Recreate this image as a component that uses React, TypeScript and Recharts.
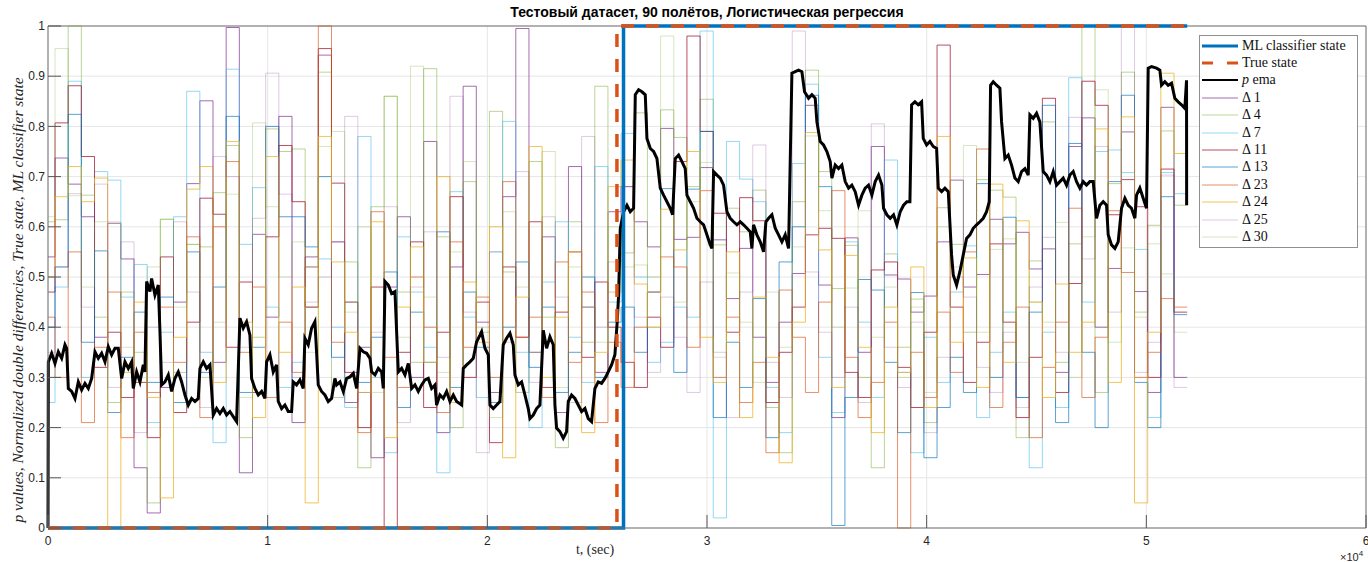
import { ComposedChart, Line, XAxis, YAxis, CartesianGrid, ReferenceLine } from "recharts";

// axis ticks (t in seconds, shown as x10^4)
const xTicks = [0, 10000, 20000, 30000, 40000, 50000, 60000];
const yTicks = [0, 0.1, 0.2, 0.3, 0.4, 0.5, 0.6, 0.7, 0.8, 0.9, 1];

// flight grid: first (partial) flight ends at 320 s, then ~600 s per flight
const firstFlightEnd = 320;
const flightDur = 599.3;

// classifier / true state switch points
const mlStateT = [0, 26200, 26200, 51860];
const mlStateV = [0, 0, 1, 1];
const trueStateT = [0, 25900, 25900, 51860];
const trueStateV = [0, 0, 1, 1];

// normalized double differences per flight (87 flights)
const d1 = [0.54, 0.737, 0.685, 0.62, 0.38, 0.607, 0.536, 0.12, 0.03, 0.28, 0.45, 0.686, 0.851, 0.33, 0.997, 0.11, 0.585, 0.42, 0.82, 0.21, 0.54, 0.942, 0.57, 0.25, 0.36, 0.14, 0.48, 0.62, 0.3, 0.77, 0.19, 0.52, 0.88, 0.41, 0.27, 0.66, 0.995, 0.35, 0.58, 0.23, 0.72, 0.44, 0.31, 0.63, 0.68, 0.61, 0.56, 0.796, 0.575, 0.579, 0.718, 0.574, 0.457, 0.557, 0.38, 0.29, 0.41, 0.507, 0.842, 0.484, 0.22, 0.578, 0.35, 0.76, 0.504, 0.496, 0.43, 0.462, 0.57, 0.693, 0.48, 0.505, 0.615, 0.566, 0.589, 0.516, 0.556, 0.31, 0.76, 0.817, 0.4, 0.517, 0.789, 0.471, 0.27, 0.838, 0.3];
const d4 = [0.61, 0.614, 1.0, 0.663, 0.42, 0.25, 0.47, 0.35, 0.05, 0.615, 0.31, 0.565, 0.56, 0.668, 0.762, 0.18, 0.38, 0.795, 0.75, 0.755, 0.44, 0.908, 0.26, 0.53, 0.12, 0.64, 0.86, 0.47, 0.33, 0.915, 0.58, 0.2, 0.69, 0.39, 0.83, 0.51, 0.27, 0.73, 0.42, 0.16, 0.61, 0.37, 0.88, 0.47, 0.548, 0.827, 0.5, 0.833, 0.778, 0.68, 0.854, 0.564, 0.637, 0.59, 0.673, 0.24, 0.15, 0.65, 0.912, 0.71, 0.477, 0.563, 0.3, 0.12, 0.546, 0.36, 0.456, 0.21, 0.638, 0.565, 0.39, 0.694, 0.673, 0.659, 0.18, 0.532, 0.809, 0.33, 0.566, 1.0, 0.27, 0.686, 0.908, 0.43, 0.603, 0.791, 0.643];
const d7 = [0.25, 0.48, 0.89, 0.3, 0.71, 0.693, 0.46, 0.525, 0.21, 0.39, 0.62, 0.87, 0.35, 0.17, 0.914, 0.565, 0.678, 0.44, 0.28, 0.33, 0.52, 0.536, 0.4, 0.24, 0.78, 0.3, 0.15, 0.58, 0.47, 0.36, 0.11, 0.67, 0.42, 0.26, 0.55, 0.81, 0.35, 0.2, 0.49, 0.61, 0.38, 0.29, 0.72, 0.45, 0.786, 0.5, 0.33, 0.37, 0.44, 0.42, 0.99, 0.02, 0.77, 0.695, 0.65, 0.28, 0.19, 0.726, 0.884, 0.34, 0.23, 0.57, 0.41, 0.26, 0.733, 0.31, 0.15, 0.38, 0.29, 0.47, 0.562, 0.22, 0.35, 0.43, 0.26, 0.12, 0.39, 0.24, 0.897, 0.45, 0.75, 0.753, 0.708, 0.555, 0.22, 0.708, 0.666];
const d11 = [0.47, 0.807, 0.881, 0.74, 0.32, 0.39, 0.26, 0.29, 0.18, 0.54, 0.23, 0.41, 0.657, 0.625, 0.36, 0.49, 0.27, 0.58, 0.762, 0.65, 0.44, 0.955, 0.687, 0.31, 0.2, 0.48, 0.0, 0.35, 0.57, 0.24, 0.39, 0.66, 0.3, 0.45, 0.17, 0.52, 0.38, 0.61, 0.28, 0.43, 0.55, 0.34, 0.49, 0.4, 0.33, 0.28, 0.42, 0.36, 0.73, 0.98, 0.79, 0.627, 0.39, 0.658, 0.612, 0.25, 0.35, 0.44, 0.584, 0.597, 0.577, 0.31, 0.26, 0.514, 0.53, 0.32, 0.24, 0.39, 0.962, 0.44, 0.29, 0.37, 0.566, 0.41, 0.22, 0.34, 0.856, 0.27, 0.487, 0.89, 0.842, 0.624, 0.694, 0.64, 0.3, 0.715, 0.43];
const d13 = [0.4, 0.52, 0.824, 0.37, 0.552, 0.23, 0.34, 0.43, 0.29, 0.46, 0.25, 0.55, 0.31, 0.48, 0.82, 0.27, 0.36, 0.8, 0.62, 0.62, 0.56, 0.7, 0.34, 0.45, 0.29, 0.38, 0.51, 0.24, 0.43, 0.33, 0.59, 0.28, 0.47, 0.36, 0.25, 0.4, 0.53, 0.32, 0.44, 0.27, 0.35, 0.5, 0.3, 0.41, 0.44, 0.35, 0.47, 0.676, 0.31, 0.675, 0.79, 0.22, 0.37, 0.28, 0.457, 0.18, 0.53, 0.6, 0.862, 0.68, 0.005, 0.26, 0.495, 0.474, 0.33, 0.19, 0.469, 0.14, 0.24, 0.34, 0.27, 0.686, 0.3, 0.619, 0.26, 0.43, 0.842, 0.21, 0.766, 0.35, 0.2, 0.69, 0.862, 0.29, 0.2, 0.66, 0.425];
const d23 = [0.42, 0.3, 0.55, 0.21, 0.36, 0.47, 0.18, 0.39, 0.27, 0.44, 0.33, 0.58, 0.22, 0.6, 0.73, 0.35, 0.48, 0.26, 0.41, 0.31, 0.52, 1.0, 0.37, 0.45, 0.19, 0.63, 0.34, 0.28, 0.5, 0.4, 0.23, 0.57, 0.36, 0.46, 0.3, 0.69, 0.38, 0.42, 0.26, 0.53, 0.33, 0.47, 0.21, 0.37, 0.28, 0.4, 0.47, 0.54, 0.52, 0.36, 0.672, 0.3, 0.42, 0.25, 0.33, 0.15, 0.474, 0.38, 0.27, 0.45, 0.672, 0.34, 0.22, 0.29, 0.41, 0.0, 0.35, 0.26, 0.43, 0.31, 0.55, 0.755, 0.24, 0.37, 0.44, 0.18, 0.32, 0.41, 0.637, 0.26, 0.38, 0.632, 0.509, 0.3, 0.35, 0.457, 0.44];
const d24 = [0.5, 0.66, 0.72, 0.65, 0.697, 0.0, 0.31, 0.45, 0.26, 0.06, 0.38, 0.675, 0.72, 0.29, 0.77, 0.41, 0.22, 0.74, 0.35, 0.48, 0.05, 0.78, 0.53, 0.39, 0.27, 0.61, 0.18, 0.44, 0.56, 0.33, 0.7, 0.25, 0.49, 0.37, 0.6, 0.14, 0.46, 0.76, 0.3, 0.42, 0.55, 0.19, 0.35, 0.68, 0.733, 0.486, 0.4, 0.635, 0.554, 0.75, 0.38, 0.29, 0.55, 0.22, 0.46, 0.34, 0.13, 0.41, 0.788, 0.554, 0.28, 0.543, 0.36, 0.19, 0.44, 0.31, 0.52, 0.24, 0.78, 0.37, 0.538, 0.28, 0.685, 0.33, 0.612, 0.45, 0.26, 0.486, 0.35, 0.41, 0.795, 0.29, 0.819, 0.05, 0.39, 0.906, 0.746];
const d25 = [0.35, 0.52, 0.666, 0.44, 0.685, 0.28, 0.57, 0.19, 0.4, 0.33, 0.61, 0.47, 0.24, 0.74, 0.7, 0.36, 0.617, 0.906, 0.665, 0.3, 0.45, 0.5, 0.57, 0.82, 0.27, 0.39, 0.64, 0.21, 0.48, 0.59, 0.34, 0.86, 0.43, 0.15, 0.55, 0.37, 0.71, 0.29, 0.62, 0.46, 0.25, 0.78, 0.4, 0.53, 0.68, 0.42, 0.31, 0.46, 0.38, 0.27, 0.49, 0.35, 0.22, 0.47, 0.763, 0.33, 0.26, 0.99, 0.51, 0.39, 0.3, 0.44, 0.25, 0.805, 0.36, 0.28, 0.41, 0.19, 0.34, 0.5, 0.46, 0.32, 0.27, 0.39, 0.24, 0.48, 0.579, 0.35, 0.818, 0.536, 0.76, 0.43, 1.0, 0.31, 0.37, 0.703, 0.28];
const d30 = [0.62, 0.955, 0.662, 0.48, 0.61, 0.61, 0.36, 0.29, 0.52, 0.615, 0.44, 0.565, 0.3, 0.41, 0.665, 0.26, 0.807, 0.64, 0.5, 0.57, 0.35, 0.76, 0.79, 0.43, 0.6, 0.27, 0.86, 0.38, 0.92, 0.46, 0.31, 0.55, 0.73, 0.4, 0.22, 0.63, 0.48, 0.35, 0.75, 0.28, 0.52, 0.44, 0.37, 0.6, 0.52, 0.524, 0.4, 0.98, 0.45, 0.65, 0.728, 0.34, 0.508, 0.41, 0.29, 0.47, 0.36, 0.56, 0.781, 0.632, 0.4, 0.478, 0.632, 0.38, 0.48, 0.3, 0.44, 0.27, 0.6, 0.52, 0.762, 0.39, 0.555, 0.576, 0.33, 0.45, 0.41, 0.609, 0.3, 0.58, 0.873, 0.37, 0.558, 0.42, 0.566, 0.506, 0.39];

// exponential moving average of p: [t (s), p]
const emaSamples = [
  [0, 0], [15, 0.331], [166, 0.348], [318, 0.328], [470, 0.351], [622, 0.338], [773, 0.365], [849, 0.358], [925, 0.278], [1077, 0.272], [1228, 0.258], [1380, 0.291], [1532, 0.275], [1683, 0.288], [1835, 0.278], [1987, 0.298], [2139, 0.351], [2290, 0.338], [2442, 0.348], [2594, 0.331], [2745, 0.361], [2897, 0.345], [3049, 0.358], [3200, 0.358], [3352, 0.298], [3504, 0.331], [3656, 0.318], [3807, 0.331], [3883, 0.278], [4035, 0.311], [4186, 0.291], [4338, 0.325], [4414, 0.311], [4490, 0.491], [4642, 0.471], [4717, 0.497], [4869, 0.464], [5021, 0.484], [5097, 0.391], [5173, 0.285], [5324, 0.291], [5476, 0.305], [5628, 0.272], [5779, 0.298], [5931, 0.311], [6083, 0.291], [6235, 0.265], [6386, 0.245], [6538, 0.258], [6690, 0.252], [6841, 0.258], [6917, 0.318], [7069, 0.331], [7221, 0.318], [7372, 0.325], [7524, 0.225], [7676, 0.238], [7827, 0.228], [7979, 0.238], [8131, 0.225], [8282, 0.232], [8434, 0.222], [8586, 0.212], [8737, 0.418], [8889, 0.398], [9041, 0.411], [9193, 0.384], [9268, 0.298], [9420, 0.278], [9572, 0.265], [9724, 0.272], [9875, 0.258], [9951, 0.331], [10103, 0.345], [10254, 0.311], [10406, 0.325], [10482, 0.252], [10634, 0.238], [10785, 0.245], [10937, 0.232], [11089, 0.232], [11165, 0.291], [11316, 0.285], [11468, 0.295], [11620, 0.278], [11695, 0.378], [11847, 0.365], [11999, 0.398], [12151, 0.411], [12226, 0.351], [12302, 0.285], [12454, 0.272], [12606, 0.265], [12757, 0.252], [12909, 0.258], [13061, 0.298],
  [13140, 0.285], [13292, 0.291], [13444, 0.272], [13596, 0.298], [13747, 0.301], [13899, 0.308], [14051, 0.278], [14202, 0.358], [14354, 0.351], [14506, 0.348], [14657, 0.338], [14733, 0.311], [14885, 0.305], [15037, 0.318], [15188, 0.311], [15264, 0.278], [15340, 0.491], [15492, 0.484], [15643, 0.467], [15795, 0.471], [15947, 0.311], [16099, 0.318], [16250, 0.305], [16402, 0.328], [16554, 0.278], [16705, 0.285], [16857, 0.272], [17009, 0.285], [17160, 0.295], [17312, 0.298], [17464, 0.278], [17616, 0.285], [17691, 0.245], [17843, 0.265], [17995, 0.258], [18147, 0.272], [18298, 0.252], [18450, 0.265], [18602, 0.252], [18829, 0.245], [18905, 0.318], [19057, 0.325], [19208, 0.331], [19360, 0.338], [19512, 0.371], [19664, 0.384], [19739, 0.391], [19891, 0.358], [20043, 0.345], [20119, 0.245], [20270, 0.238], [20422, 0.245], [20574, 0.252], [20725, 0.365], [20877, 0.378], [21029, 0.388], [21181, 0.365], [21256, 0.305], [21408, 0.285], [21560, 0.291], [21711, 0.265], [21863, 0.238], [21939, 0.218], [22091, 0.225], [22242, 0.238], [22394, 0.245], [22546, 0.394], [22698, 0.358], [22849, 0.381], [23001, 0.365], [23077, 0.245], [23153, 0.199], [23304, 0.192], [23456, 0.179], [23608, 0.192], [23684, 0.252], [23835, 0.265], [23987, 0.258], [24139, 0.245], [24290, 0.232], [24442, 0.238], [24594, 0.218], [24745, 0.212], [24897, 0.278], [25049, 0.291], [25201, 0.288], [25352, 0.298], [25504, 0.311], [25656, 0.325], [25808, 0.345], [25913, 0.411],
  [25976, 0.464], [26052, 0.597], [26204, 0.63], [26356, 0.643], [26507, 0.63], [26659, 0.637], [26735, 0.863], [26887, 0.873], [27038, 0.869], [27190, 0.863], [27266, 0.776], [27418, 0.756], [27569, 0.75], [27721, 0.736], [27873, 0.677], [28024, 0.663], [28176, 0.65], [28328, 0.637], [28434, 0.624], [28555, 0.736], [28707, 0.743], [28859, 0.73], [29010, 0.716], [29086, 0.663], [29238, 0.65], [29390, 0.637], [29541, 0.617], [29693, 0.61], [29845, 0.604], [29996, 0.584], [30148, 0.564], [30224, 0.557], [30300, 0.71], [30452, 0.703], [30603, 0.697], [30755, 0.683], [30907, 0.63], [31058, 0.617], [31210, 0.61], [31362, 0.604], [31513, 0.61], [31665, 0.604], [31817, 0.597], [31969, 0.59], [32044, 0.557], [32120, 0.604], [32272, 0.584], [32424, 0.57], [32575, 0.55], [32681, 0.61], [32803, 0.617], [32955, 0.624], [33106, 0.597], [33258, 0.584], [33410, 0.57], [33561, 0.584], [33713, 0.557], [33865, 0.906], [34017, 0.909], [34168, 0.912], [34320, 0.909], [34441, 0.869], [34623, 0.856], [34775, 0.863], [34927, 0.856], [35003, 0.809], [35154, 0.77], [35306, 0.763], [35458, 0.75], [35609, 0.73], [35685, 0.697], [35837, 0.723], [35989, 0.716], [36140, 0.723], [36292, 0.69], [36444, 0.677], [36595, 0.683], [36747, 0.67], [36899, 0.643], [37051, 0.663], [37202, 0.677], [37354, 0.683], [37506, 0.663], [37657, 0.69], [37809, 0.703], [37961, 0.683], [38037, 0.637], [38188, 0.624], [38340, 0.617], [38492, 0.624], [38643, 0.604], [38795, 0.63], [38947, 0.643], [39098, 0.65],
  [39238, 0.65], [39314, 0.843], [39466, 0.849], [39617, 0.843], [39769, 0.849], [39845, 0.776], [39997, 0.763], [40148, 0.77], [40300, 0.76], [40452, 0.756], [40528, 0.677], [40679, 0.67], [40831, 0.677], [40983, 0.67], [41134, 0.544], [41210, 0.504], [41362, 0.484], [41514, 0.511], [41665, 0.544], [41817, 0.577], [41969, 0.584], [42120, 0.597], [42272, 0.604], [42424, 0.61], [42576, 0.617], [42727, 0.63], [42849, 0.65], [42909, 0.882], [43031, 0.889], [43182, 0.882], [43334, 0.876], [43410, 0.809], [43562, 0.736], [43713, 0.743], [43865, 0.723], [44017, 0.697], [44168, 0.69], [44320, 0.71], [44472, 0.716], [44623, 0.703], [44699, 0.823], [44851, 0.816], [45003, 0.826], [45154, 0.809], [45306, 0.71], [45458, 0.703], [45609, 0.69], [45761, 0.71], [45913, 0.683], [46065, 0.69], [46216, 0.697], [46368, 0.683], [46520, 0.703], [46671, 0.71], [46823, 0.69], [46975, 0.677], [47126, 0.69], [47278, 0.683], [47430, 0.69], [47581, 0.69], [47733, 0.617], [47885, 0.643], [48037, 0.65], [48188, 0.643], [48264, 0.584], [48416, 0.564], [48568, 0.557], [48719, 0.57], [48871, 0.637], [49023, 0.657], [49174, 0.643], [49326, 0.637], [49478, 0.617], [49554, 0.663], [49705, 0.677], [49857, 0.657], [50009, 0.637], [50085, 0.916], [50236, 0.919], [50464, 0.916], [50615, 0.912], [50691, 0.882], [50843, 0.889], [50995, 0.882], [51147, 0.886], [51298, 0.856], [51450, 0.849], [51602, 0.843], [51753, 0.836], [51830, 0.892], [51835, 0.643],
];

const deltaSeries = [
  { key: "d1", label: "1", values: d1, color: "#7E2F8E", opacity: 0.7 },
  { key: "d4", label: "4", values: d4, color: "#77AC30", opacity: 0.5 },
  { key: "d7", label: "7", values: d7, color: "#4DBEEE", opacity: 0.6 },
  { key: "d11", label: "11", values: d11, color: "#A2142F", opacity: 0.75 },
  { key: "d13", label: "13", values: d13, color: "#0072BD", opacity: 0.65 },
  { key: "d23", label: "23", values: d23, color: "#D95319", opacity: 0.65 },
  { key: "d24", label: "24", values: d24, color: "#EDB120", opacity: 0.75 },
  { key: "d25", label: "25", values: d25, color: "#7E2F8E", opacity: 0.25 },
  { key: "d30", label: "30", values: d30, color: "#77AC30", opacity: 0.3 },
];

const nFlights = d1.length;
const flightStart = (i: number) => (i === 0 ? 0 : firstFlightEnd + (i - 1) * flightDur);

const stepRows = Array.from({ length: nFlights + 1 }, (_, i) => {
  const row: Record<string, number> = { t: flightStart(i) };
  deltaSeries.forEach((s) => {
    row[s.key] = s.values[Math.min(i, nFlights - 1)];
  });
  return row;
});

const emaData = emaSamples.map(([t, v]) => ({ t, v }));
const mlData = mlStateT.map((t, i) => ({ t, v: mlStateV[i] }));
const trueData = trueStateT.map((t, i) => ({ t, v: trueStateV[i] }));

const serif = '"Liberation Serif", "DejaVu Serif", serif';
const sans = '"Liberation Sans", Arial, sans-serif';

function LegendBox() {
  const rows: { label: any; color: string; width: number; dash?: string; opacity?: number }[] = [
    { label: "ML classifier state", color: "#0072BD", width: 3 },
    { label: "True state", color: "#D95319", width: 3, dash: "11 14" },
    { label: <><i>p</i> ema</>, color: "#000", width: 2 },
    ...deltaSeries.map((s) => ({ label: `Δ ${s.label}`, color: s.color, width: 1, opacity: s.opacity })),
  ];
  return (
    <div
      style={{
        position: "absolute",
        left: 1199,
        top: 35,
        width: 157,
        height: 211,
        background: "#fff",
        border: "1px solid #8f8f8f",
        fontFamily: serif,
        fontSize: 14,
        color: "#111",
      }}
    >
      {rows.map((r, i) => (
        <div
          key={i}
          style={{ position: "absolute", left: 2, top: 1 + i * 17.4, height: 17, display: "flex", alignItems: "center", whiteSpace: "nowrap" }}
        >
          <svg width={36} height={10} style={{ marginRight: 4 }}>
            <line x1={0} y1={5} x2={36} y2={5} stroke={r.color} strokeWidth={r.width} strokeDasharray={r.dash} strokeOpacity={r.opacity ?? 1} />
          </svg>
          <span>{r.label}</span>
        </div>
      ))}
    </div>
  );
}

export default function App() {
  return (
    <div style={{ position: "absolute", left: 0, top: 0, width: 1368, height: 562, background: "#fff", overflow: "hidden" }}>
      <div
        style={{
          position: "absolute",
          left: 0,
          width: 1414,
          top: 4,
          textAlign: "center",
          fontFamily: sans,
          fontWeight: "bold",
          fontSize: 14,
          color: "#000",
        }}
      >
        Тестовый датасет, 90 полётов, Логистическая регрессия
      </div>
      <ComposedChart width={1368} height={562} data={stepRows} margin={{ top: 26, right: 2, bottom: 0, left: 8 }}>
        <CartesianGrid stroke="#e6e6e6" />
        <XAxis
          dataKey="t"
          type="number"
          domain={[0, 60000]}
          ticks={xTicks}
          height={34}
          tickFormatter={(v) => String(v / 10000)}
          tickSize={-13}
          tickMargin={21}
          tickLine={{ stroke: "#555" }}
          axisLine={{ stroke: "#707070" }}
          tick={{ fill: "#262626", fontSize: 12, fontFamily: sans }}
          interval={0}
        />
        <YAxis
          type="number"
          domain={[0, 1]}
          ticks={yTicks}
          width={40}
          tickFormatter={(v) => (v === 0 || v === 1 ? String(v) : v.toFixed(1))}
          tickSize={-13}
          tickMargin={16}
          tickLine={{ stroke: "#555" }}
          axisLine={{ stroke: "#707070" }}
          tick={{ fill: "#262626", fontSize: 12, fontFamily: sans }}
          interval={0}
        />
        <ReferenceLine x={60000} stroke="#707070" />
        <ReferenceLine y={1} stroke="#707070" />
        {deltaSeries.map((s) => (
          <Line
            key={s.key}
            type="stepAfter"
            dataKey={s.key}
            stroke={s.color}
            strokeOpacity={s.opacity}
            strokeWidth={1}
            dot={false}
            activeDot={false}
            isAnimationActive={false}
          />
        ))}
        <Line data={emaData} type="linear" dataKey="v" stroke="#000" strokeWidth={3} dot={false} activeDot={false} isAnimationActive={false} />
        <Line data={mlData} type="linear" dataKey="v" stroke="#0072BD" strokeWidth={3.5} dot={false} activeDot={false} isAnimationActive={false} />
        <Line
          data={trueData}
          type="linear"
          dataKey="v"
          stroke="#D95319"
          strokeWidth={3.5}
          strokeDasharray="13 12"
          dot={false}
          activeDot={false}
          isAnimationActive={false}
        />
      </ComposedChart>
      <LegendBox />
      <div
        style={{
          position: "absolute",
          left: 18,
          top: 300,
          transform: "translate(-50%, -50%) rotate(-90deg)",
          whiteSpace: "nowrap",
          fontFamily: serif,
          fontStyle: "italic",
          fontSize: 15.5,
          color: "#262626",
        }}
      >
        p values, Normalized double differencies, True state, ML classifier state
      </div>
      <div style={{ position: "absolute", left: 595, top: 550, transform: "translate(-50%, -50%)", whiteSpace: "nowrap", fontFamily: serif, fontSize: 14, color: "#262626" }}>
        t, (sec)
      </div>
      <div style={{ position: "absolute", left: 1340, top: 549, whiteSpace: "nowrap", fontFamily: sans, fontSize: 11, color: "#262626" }}>
        ×10<sup style={{ fontSize: 8 }}>4</sup>
      </div>
    </div>
  );
}
